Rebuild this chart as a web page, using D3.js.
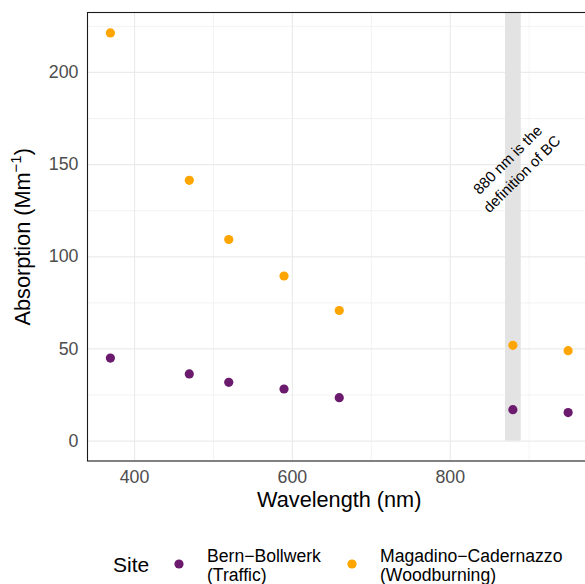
<!DOCTYPE html>
<html>
<head>
<meta charset="utf-8">
<script src="https://cdn.jsdelivr.net/npm/d3@7"></script>
<style>
  body { margin: 0; background: #fff; }
  svg { display: block; font-family: "Liberation Sans", Arial, sans-serif; }
</style>
</head>
<body>
<div id="chart"></div>
<script>
// wavelengths of the aethalometer channels
var wavelengths = [370, 470, 520, 590, 660, 880, 950];
var bernValues = [44.8, 36.2, 31.6, 28.0, 23.3, 16.8, 15.2];
var magadinoValues = [221.2, 141.2, 109.1, 89.3, 70.6, 51.7, 48.8];
var siteNames = ["Bern\u2212Bollwerk", "Magadino\u2212Cadernazzo"];
var siteNotes = ["(Traffic)", "(Woodburning)"];
var siteColors = ["#6b1a6e", "#ffa500"];
var xMajor = [400, 600, 800];
var xMinor = [500, 700, 900];
var yMajor = [0, 50, 100, 150, 200];
var yMinor = [25, 75, 125, 175, 225];
var bcBand = [870, 890];
var noteLines = ["880 nm is the", "definition of BC"];

var margin = { top: 12.5, left: 87.5 },
    width = 503.5,
    height = 448.5;

var svg = d3.select("#chart")
    .append("svg")
    .attr("width", 585)
    .attr("height", 584);

var g = svg.append("g")
    .attr("transform", `translate(${margin.left}, ${margin.top})`);

// ggplot style 5% expansion
var xExt = d3.extent(wavelengths);
var xPad = (xExt[1] - xExt[0]) * 0.05;
var x = d3.scaleLinear()
    .domain([xExt[0] - xPad, xExt[1] + xPad])
    .range([0, width]);
var yMax = d3.max(magadinoValues);
var yPad = yMax * 0.05;
var y = d3.scaleLinear()
    .domain([0 - yPad, yMax + yPad])
    .range([height, 0]);

// minor grid
g.append("g")
    .attr("class", "grid")
    .call(d3.axisLeft(y).tickValues(yMinor).tickSize(-width).tickFormat(""))
    .call(s => s.selectAll("line").attr("stroke", "#ebebeb").attr("stroke-width", 0.6));
g.append("g")
    .attr("class", "grid")
    .attr("transform", `translate(0, ${height})`)
    .call(d3.axisBottom(x).tickValues(xMinor).tickSize(-height).tickFormat(""))
    .call(s => s.selectAll("line").attr("stroke", "#ebebeb").attr("stroke-width", 0.6));
// major grid
g.append("g")
    .attr("class", "grid")
    .call(d3.axisLeft(y).tickValues(yMajor).tickSize(-width).tickFormat(""))
    .call(s => s.selectAll("line").attr("stroke", "#ebebeb").attr("stroke-width", 1.2));
g.append("g")
    .attr("class", "grid")
    .attr("transform", `translate(0, ${height})`)
    .call(d3.axisBottom(x).tickValues(xMajor).tickSize(-height).tickFormat(""))
    .call(s => s.selectAll("line").attr("stroke", "#ebebeb").attr("stroke-width", 1.2));
g.selectAll(".grid .domain").remove();

// BC band
g.append("rect")
    .attr("x", x(bcBand[0]))
    .attr("y", 0)
    .attr("width", x(bcBand[1]) - x(bcBand[0]))
    .attr("height", y(0))
    .attr("fill", "#e3e3e3");

// annotation
var note = g.append("text")
    .attr("transform", `translate(${x(880) + 1}, ${y(149)}) rotate(-45)`)
    .attr("text-anchor", "middle")
    .attr("font-size", "15px")
    .attr("fill", "#000");
note.selectAll("tspan")
    .data(noteLines)
    .join("tspan")
    .attr("x", 0)
    .attr("dy", (d, i) => i === 0 ? "-0.25em" : "1.35em")
    .text(d => d);

// points
var series = [bernValues, magadinoValues];
series.forEach(function (vals, si) {
    g.append("g")
        .selectAll("circle")
        .data(vals)
        .join("circle")
        .attr("cx", (d, i) => x(wavelengths[i]))
        .attr("cy", d => y(d))
        .attr("r", 4.6)
        .attr("fill", siteColors[si]);
});

// panel border
g.append("rect")
    .attr("width", width)
    .attr("height", height)
    .attr("fill", "none")
    .attr("stroke", "#1a1a1a")
    .attr("stroke-width", 1.1);

// axes labels
var yAxis = g.append("g")
    .call(d3.axisLeft(y).tickValues(yMajor).tickSize(0).tickPadding(9));
var xAxis = g.append("g")
    .attr("transform", `translate(0, ${height})`)
    .call(d3.axisBottom(x).tickValues(xMajor).tickSize(0).tickPadding(9));
[yAxis, xAxis].forEach(function (a) {
    a.select(".domain").remove();
    a.selectAll("text")
        .attr("font-size", "17.8px")
        .attr("font-family", "Liberation Sans, Arial, sans-serif")
        .attr("fill", "#4d4d4d");
});

svg.append("text")
    .attr("x", margin.left + width / 2)
    .attr("y", 507)
    .attr("text-anchor", "middle")
    .attr("font-size", "21.7px")
    .text("Wavelength (nm)");

var yTitle = svg.append("text")
    .attr("transform", `translate(30, ${margin.top + height / 2}) rotate(-90)`)
    .attr("text-anchor", "middle")
    .attr("font-size", "21.7px");
yTitle.append("tspan").text("Absorption (Mm");
yTitle.append("tspan").attr("font-size", "15px").attr("dy", "-0.6em").text("\u22121");
yTitle.append("tspan").attr("dy", "0.42em").text(")");

// legend
var legend = svg.append("g");
legend.append("text")
    .attr("x", 113)
    .attr("y", 572)
    .attr("font-size", "21px")
    .text("Site");
var keyX = [179, 352];
siteNames.forEach(function (name, i) {
    legend.append("circle")
        .attr("cx", keyX[i])
        .attr("cy", 564)
        .attr("r", 4.6)
        .attr("fill", siteColors[i]);
    var t = legend.append("text")
        .attr("x", keyX[i] + 28)
        .attr("y", 562)
        .attr("font-size", "17.6px");
    t.append("tspan").attr("x", keyX[i] + 28).text(name);
    t.append("tspan").attr("x", keyX[i] + 28).attr("dy", 18.5).text(siteNotes[i]);
});
</script>
</body>
</html>
